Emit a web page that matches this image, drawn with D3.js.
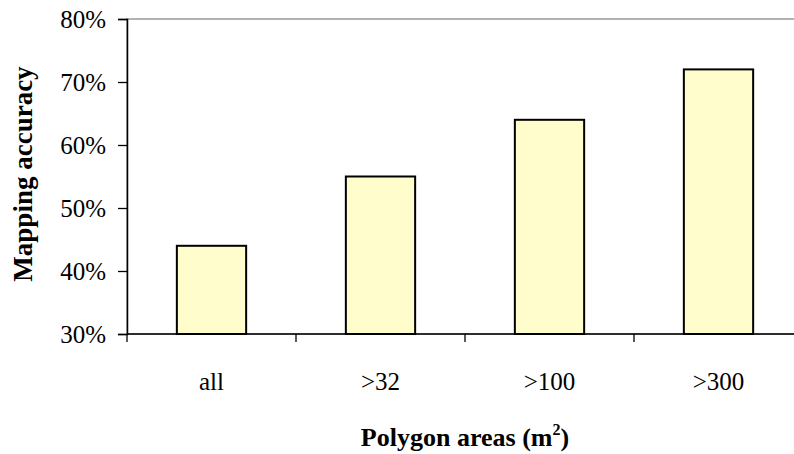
<!DOCTYPE html>
<html>
<head>
<meta charset="utf-8">
<script src="https://cdn.jsdelivr.net/npm/d3@7"></script>
<style>
  html, body { margin: 0; padding: 0; background: #fff; overflow: hidden; }
  svg { display: block; }
</style>
</head>
<body>
<svg id="chart" width="794" height="454"></svg>
<script>
// Mapping accuracy by minimum polygon area
const categories = ["all", ">32", ">100", ">300"];
const accuracy = [0.44, 0.55, 0.64, 0.72];
const yTicks = [0.3, 0.4, 0.5, 0.6, 0.7, 0.8];

const SERIF = "'Liberation Serif', 'Times New Roman', serif";

const svg = d3.select("#chart");
const plot = { left: 127, right: 803, top: 19, bottom: 334 };

const x = d3.scaleBand()
  .domain(categories)
  .range([plot.left, plot.right])
  .paddingInner(0.59)
  .paddingOuter(0.295);

const y = d3.scaleLinear()
  .domain([0.3, 0.8])
  .range([plot.bottom, plot.top]);

// plot area frame (only its top edge shows beside the axes)
svg.append("rect")
  .attr("x", plot.left)
  .attr("y", plot.top)
  .attr("width", plot.right - plot.left)
  .attr("height", plot.bottom - plot.top)
  .attr("fill", "none")
  .attr("stroke", "#999")
  .attr("stroke-width", 1.5);

// bars
svg.append("g").selectAll("rect")
  .data(categories)
  .join("rect")
  .attr("x", d => x(d))
  .attr("y", (d, i) => y(accuracy[i]))
  .attr("width", x.bandwidth())
  .attr("height", (d, i) => y(0.3) - y(accuracy[i]))
  .attr("fill", "#FFFDCC")
  .attr("stroke", "#000")
  .attr("stroke-width", 2);

// y axis
const yAxis = svg.append("g")
  .attr("transform", `translate(${plot.left},0)`)
  .call(d3.axisLeft(y).tickValues(yTicks).tickFormat(d3.format(".0%")).tickSize(9).tickPadding(12));
yAxis.attr("font-family", null).attr("font-size", null);
yAxis.select(".domain").attr("stroke", "#000").attr("stroke-width", 1.5);
yAxis.selectAll(".tick line").attr("stroke", "#000").attr("stroke-width", 1.3);
yAxis.selectAll(".tick text")
  .style("font-family", SERIF)
  .style("font-size", "25px")
  .attr("fill", "#000")
  .attr("dy", "0.33em");

// x axis; tick marks sit on the category boundaries
const xAxis = svg.append("g")
  .attr("transform", `translate(0,${plot.bottom})`);
xAxis.append("line")
  .attr("x1", plot.left).attr("x2", plot.right)
  .attr("stroke", "#000").attr("stroke-width", 1.5);
xAxis.selectAll("line.tick")
  .data(categories)
  .join("line")
  .attr("class", "tick")
  .attr("x1", d => x(d) + x.bandwidth() / 2 - x.step() / 2)
  .attr("x2", d => x(d) + x.bandwidth() / 2 - x.step() / 2)
  .attr("y1", 0).attr("y2", 8)
  .attr("stroke", "#000").attr("stroke-width", 1.3);
xAxis.selectAll("text.cat")
  .data(categories)
  .join("text")
  .attr("class", "cat")
  .attr("x", d => x(d) + x.bandwidth() / 2)
  .attr("y", 56)
  .attr("text-anchor", "middle")
  .style("font-family", SERIF)
  .style("font-size", "25px")
  .text(d => d);

// axis titles
svg.append("text")
  .attr("transform", "translate(32,174) rotate(-90)")
  .attr("text-anchor", "middle")
  .style("font-family", SERIF)
  .style("font-weight", "bold")
  .style("font-size", "27px")
  .text("Mapping accuracy");

const xt = svg.append("text")
  .attr("x", 465)
  .attr("y", 446)
  .attr("text-anchor", "middle")
  .style("font-family", SERIF)
  .style("font-weight", "bold")
  .style("font-size", "26px");
xt.append("tspan").text("Polygon areas (m");
xt.append("tspan").attr("dy", -11).style("font-size", "16px").text("2");
xt.append("tspan").attr("dy", 11).text(")");
</script>
</body>
</html>
